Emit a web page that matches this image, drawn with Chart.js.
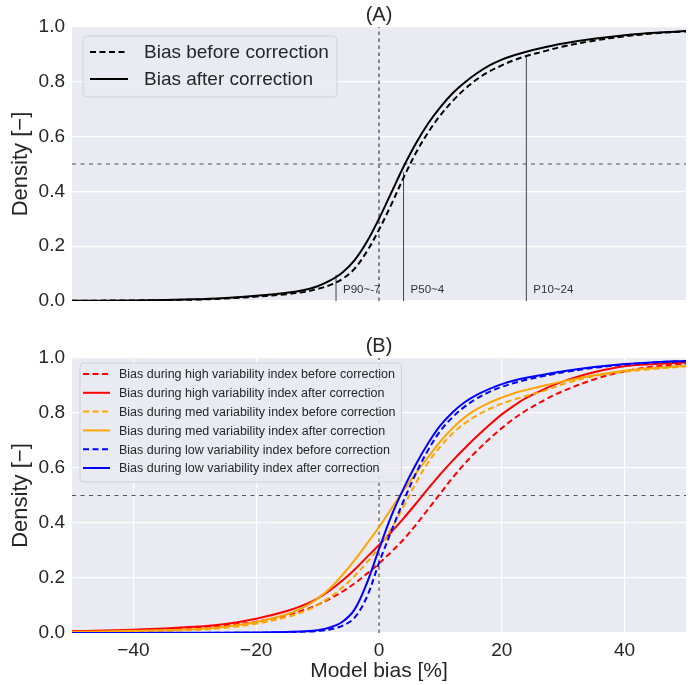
<!DOCTYPE html>
<html>
<head>
<meta charset="utf-8">
<script src="https://cdn.jsdelivr.net/npm/chart.js@4.4.1/dist/chart.umd.min.js"></script>
<style>
  html, body { margin: 0; padding: 0; background: #fff; }
  #topBox { position: absolute; left: 0; top: 0; width: 693px; height: 320px; }
  #botBox { position: absolute; left: 0; top: 320px; width: 693px; height: 365px; }
</style>
</head>
<body>
<div id="topBox"><canvas id="chartA" width="693" height="320"></canvas></div>
<div id="botBox"><canvas id="chartB" width="693" height="365"></canvas></div>
<script>
// model bias [%] where the CDFs were read
const biasPct = [-50, -40, -30, -25, -20, -15, -12, -10, -8, -6, -4, -2, 0, 2, 4, 6, 8, 10, 12, 14, 16, 18, 20, 22, 24, 27, 30, 35, 40, 45, 50];

// panel A
const allBefore = [0.001, 0.002, 0.005, 0.009, 0.016, 0.025, 0.034, 0.044, 0.058, 0.08, 0.117, 0.18, 0.26, 0.352, 0.45, 0.54, 0.615, 0.678, 0.73, 0.774, 0.81, 0.838, 0.86, 0.879, 0.894, 0.912, 0.929, 0.95, 0.966, 0.977, 0.984];
const allAfter = [0.001, 0.002, 0.006, 0.011, 0.019, 0.03, 0.041, 0.054, 0.074, 0.103, 0.148, 0.215, 0.30, 0.395, 0.49, 0.575, 0.648, 0.708, 0.758, 0.798, 0.832, 0.86, 0.881, 0.897, 0.91, 0.926, 0.94, 0.957, 0.97, 0.979, 0.985];

// panel B
const highBefore = [0.005, 0.01, 0.02, 0.028, 0.041, 0.065, 0.085, 0.103, 0.124, 0.15, 0.18, 0.215, 0.253, 0.295, 0.34, 0.393, 0.45, 0.508, 0.565, 0.617, 0.664, 0.706, 0.745, 0.78, 0.81, 0.848, 0.88, 0.922, 0.952, 0.969, 0.98];
const highAfter = [0.006, 0.012, 0.023, 0.033, 0.052, 0.08, 0.104, 0.126, 0.155, 0.19, 0.23, 0.275, 0.32, 0.367, 0.417, 0.47, 0.525, 0.578, 0.627, 0.673, 0.716, 0.757, 0.795, 0.827, 0.855, 0.888, 0.915, 0.948, 0.97, 0.978, 0.984];
const medBefore = [0.003, 0.006, 0.011, 0.019, 0.034, 0.058, 0.08, 0.102, 0.13, 0.165, 0.207, 0.256, 0.31, 0.38, 0.46, 0.545, 0.62, 0.678, 0.726, 0.763, 0.792, 0.815, 0.834, 0.849, 0.862, 0.882, 0.905, 0.934, 0.95, 0.961, 0.969];
const medAfter = [0.004, 0.008, 0.014, 0.023, 0.04, 0.068, 0.097, 0.125, 0.162, 0.21, 0.264, 0.324, 0.385, 0.452, 0.518, 0.58, 0.64, 0.697, 0.745, 0.785, 0.815, 0.838, 0.856, 0.872, 0.884, 0.9, 0.915, 0.937, 0.954, 0.964, 0.972];
const lowBefore = [0, 0, 0, 0.001, 0.001, 0.003, 0.005, 0.007, 0.013, 0.026, 0.055, 0.13, 0.255, 0.37, 0.48, 0.58, 0.665, 0.735, 0.785, 0.824, 0.854, 0.877, 0.895, 0.909, 0.921, 0.935, 0.948, 0.964, 0.976, 0.984, 0.988];
const lowAfter = [0, 0, 0.001, 0.001, 0.002, 0.004, 0.006, 0.01, 0.02, 0.04, 0.085, 0.18, 0.305, 0.425, 0.525, 0.613, 0.69, 0.755, 0.803, 0.84, 0.867, 0.888, 0.905, 0.918, 0.928, 0.94, 0.952, 0.967, 0.978, 0.985, 0.989];

// ticks and marker lines
const xTicks = [-40, -20, 0, 20, 40];
const yTicks = [0, 0.2, 0.4, 0.6, 0.8, 1.0];
const pValues = [-7, 4, 24];
const pLevels = [0.095, 0.47, 0.89];
const pLabels = ["P90~-7", "P50~4", "P10~24"];
const halfLevel = 0.5;

const FONT = "'Liberation Sans', Arial, sans-serif";
const TEXT = "#262626";
const BG = "#eaeaf2";

function pts(ys) {
  return biasPct.map((x, i) => ({ x: x, y: ys[i] }));
}

function curve(label, ys, color, dashed, order) {
  return {
    label: label, data: pts(ys), borderColor: color, borderWidth: 2,
    borderDash: dashed ? [6, 3.5] : [], pointRadius: 0,
    tension: 0.35, order: order
  };
}

function refLines() {
  return [
    { data: [{ x: -50, y: halfLevel }, { x: 50, y: halfLevel }], borderColor: "#555", borderWidth: 1, borderDash: [4, 4.5], pointRadius: 0, isRef: true, order: 100 },
    { data: [{ x: 0, y: 0 }, { x: 0, y: 1 }], borderColor: "#222", borderWidth: 1, borderDash: [3.5, 3.5], pointRadius: 0, isRef: true, order: 100 }
  ];
}

// grey plot background like seaborn darkgrid
const areaBg = {
  id: "areaBg",
  beforeDraw(chart) {
    const a = chart.chartArea, ctx = chart.ctx;
    ctx.save();
    ctx.fillStyle = BG;
    ctx.fillRect(a.left, a.top, a.right - a.left, a.bottom - a.top);
    ctx.restore();
  }
};

// panel title, percentile labels and legend inside the axes
const panelDecor = {
  id: "panelDecor",
  afterDraw(chart, args, o) {
    const a = chart.chartArea, ctx = chart.ctx;
    ctx.save();
    ctx.fillStyle = TEXT;
    ctx.font = "20px " + FONT;
    ctx.textAlign = "center";
    ctx.textBaseline = "middle";
    ctx.fillText(o.title, (a.left + a.right) / 2, a.top - 12);

    if (o.pLabels) {
      ctx.font = "11.5px " + FONT;
      ctx.fillStyle = "#333";
      ctx.textAlign = "left";
      o.pLabels.forEach((t, i) => {
        ctx.fillText(t, chart.scales.x.getPixelForValue(pValues[i]) + 7, a.bottom - 11);
      });
    }

    const L = o.legend;
    const items = chart.data.datasets.filter(d => !d.isRef);
    ctx.font = L.font + "px " + FONT;
    let maxW = 0;
    items.forEach(d => { maxW = Math.max(maxW, ctx.measureText(d.label).width); });
    const bx = a.left + L.dx, by = a.top + L.dy;
    const bw = L.padL + L.sample + L.gap + maxW + L.padR;
    const bh = L.firstRow + L.rowH * (items.length - 1) + L.padB;
    ctx.beginPath();
    ctx.roundRect(bx, by, bw, bh, 4);
    ctx.fillStyle = "rgba(234,234,242,0.85)";
    ctx.fill();
    ctx.strokeStyle = "#d2d2d8";
    ctx.lineWidth = 1;
    ctx.stroke();
    items.forEach((d, i) => {
      const y = by + L.firstRow + i * L.rowH;
      ctx.beginPath();
      ctx.setLineDash(d.borderDash);
      ctx.strokeStyle = d.borderColor;
      ctx.lineWidth = 2;
      ctx.moveTo(bx + L.padL, y);
      ctx.lineTo(bx + L.padL + L.sample, y);
      ctx.stroke();
      ctx.setLineDash([]);
      ctx.fillStyle = TEXT;
      ctx.textAlign = "left";
      ctx.fillText(d.label, bx + L.padL + L.sample + L.gap, y + 1);
    });
    ctx.restore();
  }
};

function yAxis() {
  return {
    min: 0, max: 1,
    afterBuildTicks: ax => { ax.ticks = yTicks.map(v => ({ value: v })); },
    afterFit: ax => { ax.width = 72; },
    grid: { color: "#fff", lineWidth: 1.2, drawTicks: false },
    border: { display: false },
    ticks: { padding: 7, color: TEXT, font: { size: 19, family: FONT }, callback: v => v.toFixed(1) },
    title: { display: true, text: "Density [−]", color: TEXT, font: { size: 22, family: FONT }, padding: { top: 8, bottom: 0 } }
  };
}

// (A) all data
const dsA = [
  curve("Bias before correction", allBefore, "#000", true, 2),
  curve("Bias after correction", allAfter, "#000", false, 1)
].concat(refLines()).concat(pValues.map((p, i) => ({
  data: [{ x: p, y: 0 }, { x: p, y: pLevels[i] }],
  borderColor: "#444", borderWidth: 1, pointRadius: 0, isRef: true, order: 50
})));

new Chart(document.getElementById("chartA"), {
  type: "line",
  data: { datasets: dsA },
  options: {
    responsive: false, animation: false, devicePixelRatio: 1,
    layout: { padding: { top: 27, right: 7, bottom: 19, left: 0 } },
    plugins: {
      legend: { display: false }, tooltip: { enabled: false },
      panelDecor: {
        title: "(A)", pLabels: pLabels,
        legend: { dx: 11, dy: 9, padL: 7, sample: 38, gap: 16, firstRow: 16, rowH: 27, padB: 18, padR: 8, font: 19 }
      }
    },
    scales: {
      x: { type: "linear", min: -50, max: 50, display: false },
      y: yAxis()
    }
  },
  plugins: [areaBg, panelDecor]
});

// (B) split by variability index
const dsB = [
  curve("Bias during high variability index before correction", highBefore, "#ff0000", true, 6),
  curve("Bias during high variability index after correction", highAfter, "#ff0000", false, 5),
  curve("Bias during med variability index before correction", medBefore, "#ffa500", true, 4),
  curve("Bias during med variability index after correction", medAfter, "#ffa500", false, 3),
  curve("Bias during low variability index before correction", lowBefore, "#0000ff", true, 2),
  curve("Bias during low variability index after correction", lowAfter, "#0000ff", false, 1)
].concat(refLines());

new Chart(document.getElementById("chartB"), {
  type: "line",
  data: { datasets: dsB },
  options: {
    responsive: false, animation: false, devicePixelRatio: 1,
    layout: { padding: { top: 38, right: 7, bottom: 0, left: 0 } },
    plugins: {
      legend: { display: false }, tooltip: { enabled: false },
      panelDecor: {
        title: "(B)",
        legend: { dx: 8, dy: 5, padL: 3, sample: 27, gap: 9, firstRow: 11, rowH: 18.8, padB: 14, padR: 6, font: 12.5 }
      }
    },
    scales: {
      x: {
        type: "linear", min: -50, max: 50,
        afterBuildTicks: ax => { ax.ticks = xTicks.map(v => ({ value: v })); },
        afterFit: ax => { ax.height = 52; },
        grid: { color: "#fff", lineWidth: 1.2, drawTicks: false },
        border: { display: false },
        ticks: { padding: 6, color: TEXT, font: { size: 19, family: FONT }, callback: v => String(v).replace("-", "−") },
        title: { display: true, text: "Model bias [%]", color: TEXT, font: { size: 21, family: FONT }, padding: { top: 0, bottom: 1 } }
      },
      y: yAxis()
    }
  },
  plugins: [areaBg, panelDecor]
});
</script>
</body>
</html>
